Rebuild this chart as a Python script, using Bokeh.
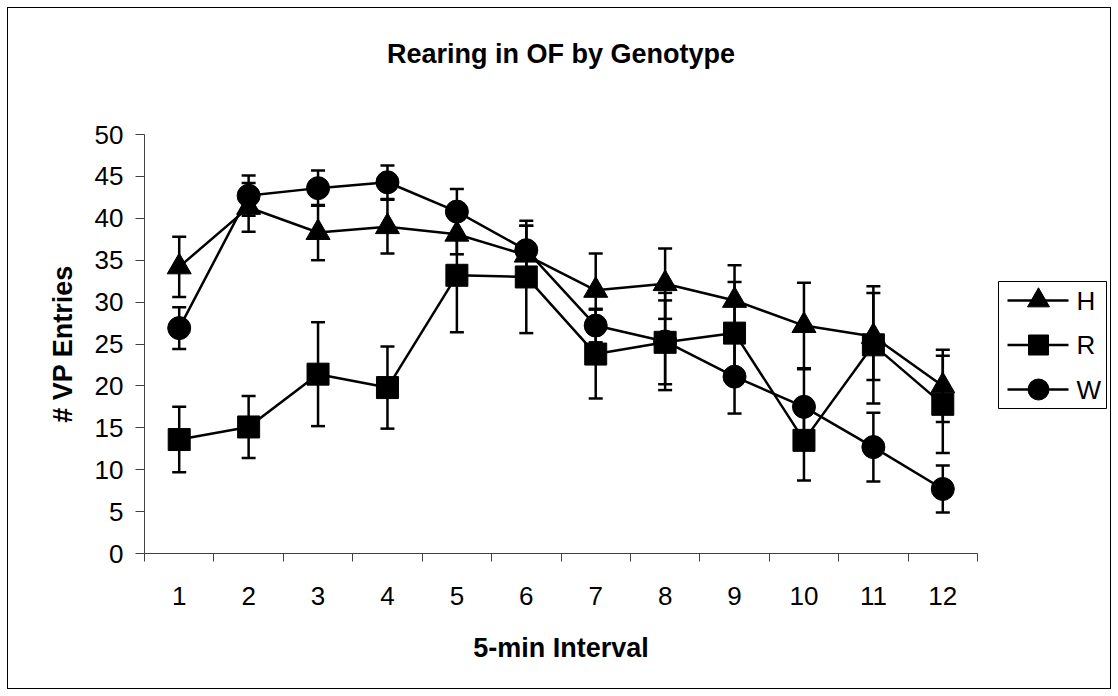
from bokeh.plotting import figure
from bokeh.layouts import column, row
from bokeh.core.properties import value
from bokeh.models import (Range1d, FixedTicker, Whisker, ColumnDataSource, TeeHead, Title)
from bokeh.embed import file_html
from bokeh.resources import INLINE

# ---- data ----
intervals = [1, 2, 3, 4, 5, 6, 7, 8, 9, 10, 11, 12]
tick_labels = [str(i) for i in intervals]
y_ticks = [0, 5, 10, 15, 20, 25, 30, 35, 40, 45, 50]

H = [34.2, 41.3, 38.3, 39.0, 38.1, 35.6, 31.4, 32.2, 30.2, 27.2, 25.9, 20.0]
H_err = [3.6, 2.9, 3.3, 3.2, 2.4, 3.5, 4.4, 4.2, 4.2, 5.1, 5.2, 4.3]
R = [13.6, 15.1, 21.4, 19.8, 33.2, 33.0, 23.8, 25.2, 26.3, 13.5, 24.9, 17.8]
R_err = [3.9, 3.7, 6.2, 4.9, 6.8, 6.7, 5.3, 5.0, 6.1, 4.8, 7.0, 5.8]
W = [26.9, 42.7, 43.6, 44.3, 40.8, 36.2, 27.2, 25.3, 21.1, 17.5, 12.7, 7.7]
W_err = [2.5, 2.4, 2.1, 2.0, 2.7, 2.9, 2.0, 5.8, 4.4, 4.5, 4.1, 2.8]

series_names = ["H", "R", "W"]
series_vals = [H, R, W]
series_errs = [H_err, R_err, W_err]
series_markers = ["triangle", "square", "circle"]
series_sizes = [24, 22, 23]

FONT = "Liberation Sans"
TOP, BOTTOM, HEIGHT = 126, 135, 680

p = figure(width=975, height=HEIGHT, output_backend="svg", toolbar_location=None,
           x_range=Range1d(0.5, 12.5), y_range=Range1d(0, 50),
           min_border_left=136, min_border_right=6,
           min_border_top=TOP, min_border_bottom=BOTTOM)
p.outline_line_color = None
p.xgrid.visible = False
p.ygrid.visible = False
p.background_fill_color = "white"
p.border_fill_color = "white"

# title (spacer title below it pushes it upward)
p.add_layout(Title(text=" ", standoff=34, text_font=FONT, text_font_size="27px"), "above")
p.title.text = "Rearing in OF by Genotype"
p.title.align = "center"
p.title.text_font = FONT
p.title.text_font_size = "27px"
p.title.text_font_style = "bold"
p.title.text_color = "black"
p.title.standoff = 0

# x axis
xa = p.xaxis[0]
xa.ticker = FixedTicker(ticks=intervals,
                        minor_ticks=[i + 0.5 for i in range(0, 13)])
xa.major_label_overrides = {i: l for i, l in zip(intervals, tick_labels)}
xa.major_tick_line_color = None
xa.major_tick_out = 0
xa.major_tick_in = 0
xa.minor_tick_line_color = "#404040"
xa.minor_tick_out = 8
xa.minor_tick_in = 0
xa.axis_line_color = "#404040"
xa.major_label_text_font = FONT
xa.major_label_text_font_size = "26px"
xa.major_label_text_color = "black"
xa.major_label_standoff = 25
xa.axis_label = "5-min Interval"
xa.axis_label_text_font = FONT
xa.axis_label_text_font_size = "27px"
xa.axis_label_text_font_style = "bold"
xa.axis_label_text_color = "black"
xa.axis_label_standoff = 25

# y axis
ya = p.yaxis[0]
ya.ticker = FixedTicker(ticks=y_ticks, minor_ticks=[])
ya.major_tick_line_color = "#404040"
ya.major_tick_out = 9
ya.major_tick_in = 0
ya.axis_line_color = "#404040"
ya.major_label_text_font = FONT
ya.major_label_text_font_size = "26px"
ya.major_label_text_color = "black"
ya.major_label_standoff = 12
ya.axis_label = "# VP Entries"
ya.axis_label_text_font = FONT
ya.axis_label_text_font_size = "27px"
ya.axis_label_text_font_style = "bold"
ya.axis_label_text_color = "black"
ya.axis_label_standoff = 14

for vals, errs, marker, size in zip(series_vals, series_errs, series_markers, series_sizes):
    src = ColumnDataSource(dict(
        x=intervals, y=vals,
        upper=[v + e for v, e in zip(vals, errs)],
        lower=[v - e for v, e in zip(vals, errs)]))
    wh = Whisker(source=src, base="x", upper="upper", lower="lower",
                 line_color="black", line_width=2.5,
                 upper_head=TeeHead(size=14, line_color="black", line_width=2.5),
                 lower_head=TeeHead(size=14, line_color="black", line_width=2.5))
    p.add_layout(wh)
    p.line("x", "y", source=src, line_color="black", line_width=2.5)
    p.scatter("x", "y", source=src, marker=marker, size=size,
              fill_color="black", line_color="black")

# ---- legend panel: separate figure whose frame matches the plot frame vertically;
# ranges are in pixel units of the canvas (y grows downward) ----
LEG_W = 127
leg = figure(width=LEG_W, height=HEIGHT, output_backend="svg", toolbar_location=None,
             x_range=Range1d(0, LEG_W), y_range=Range1d(HEIGHT - BOTTOM, TOP),
             x_axis_location=None, y_axis_location=None,
             min_border_left=0, min_border_right=0,
             min_border_top=TOP, min_border_bottom=BOTTOM)
leg.outline_line_color = None
leg.xgrid.visible = False
leg.ygrid.visible = False
leg.background_fill_color = "white"
leg.border_fill_color = "white"

n = len(series_names)
entry_y = [292 + 44.5 * i for i in range(n)]
leg.quad(left=[15], right=[123], top=[273], bottom=[400],
         fill_color="white", line_color="black", line_width=1)
leg_src = ColumnDataSource(dict(x0=[24] * n, x1=[85] * n, xm=[55] * n, xt=[93] * n,
                                y=entry_y, name=series_names,
                                marker=series_markers, size=[s - 2 for s in series_sizes]))
leg.segment(x0="x0", y0="y", x1="x1", y1="y", source=leg_src,
            line_color="black", line_width=2.5)
leg.scatter(x="xm", y="y", marker="marker", size="size", source=leg_src,
            fill_color="black", line_color="black")
leg.text(x="xt", y="y", text="name", source=leg_src, text_font=value(FONT),
         text_font_size="26px", text_baseline="middle", text_align="left",
         text_color="black")

layout = column(row(p, leg), margin=7,
                styles={"border": "1px solid black", "background-color": "white"})

open("out.html", "w").write(file_html(layout, INLINE))
